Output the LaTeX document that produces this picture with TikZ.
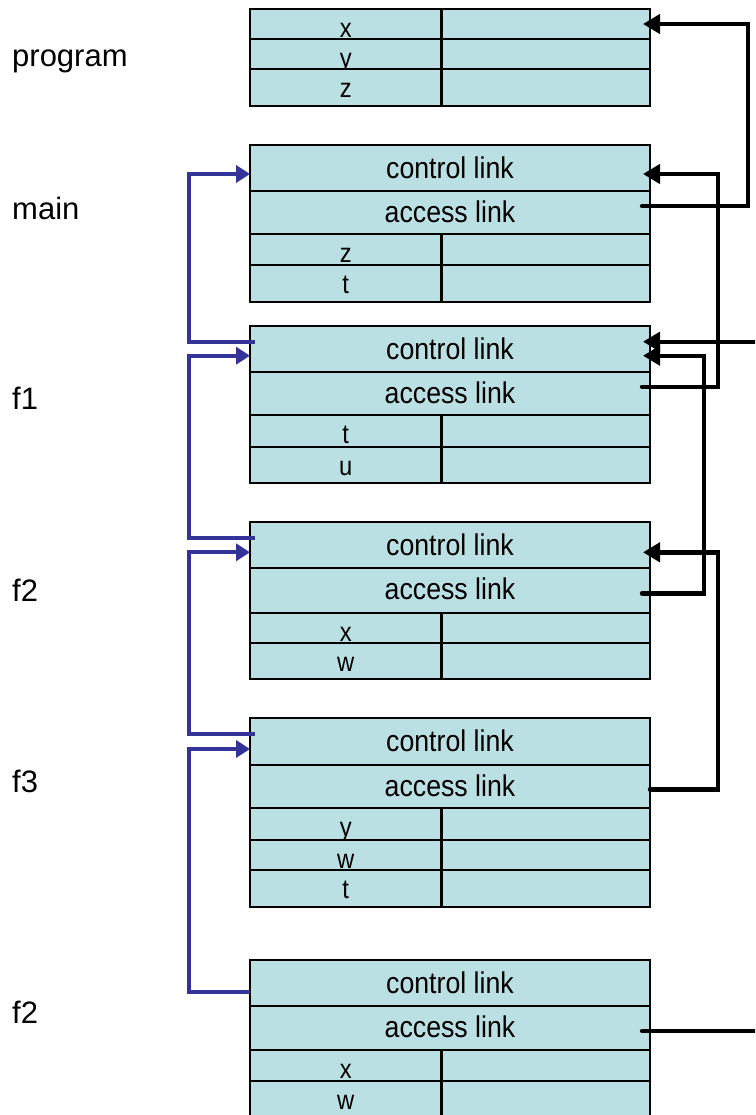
\documentclass[tikz,border=0pt]{standalone}
\usepackage{fontspec}
\setmainfont{Liberation Sans}
\newfontfamily\boxfont[FakeStretch=0.89]{Liberation Sans}
\newfontfamily\varfont[FakeStretch=0.88]{Liberation Sans}
\usetikzlibrary{arrows.meta}
\definecolor{cellfill}{RGB}{187,224,227}
\definecolor{linkblue}{RGB}{51,51,153}

\tikzset{
  cell/.style={draw=black, line width=2.2pt, fill=cellfill, inner sep=0pt, outer sep=0pt, anchor=north west},
  cellW/.style={cell, minimum width=400pt},
  cellL/.style={cell, minimum width=191.5pt},
  cellR/.style={cell, minimum width=208.5pt},
  boxtext/.style={anchor=base, inner sep=0pt, font=\boxfont\fontsize{30}{36}\selectfont},
  vartext/.style={anchor=base, inner sep=0pt, font=\varfont\fontsize{27}{32}\selectfont},
  lbl/.style={anchor=base west, inner sep=0pt, font=\fontsize{31}{37}\selectfont},
  acc/.style={draw=black, line width=4.4pt, line cap=round, -{Triangle[length=17pt,width=19pt]}},
  accline/.style={draw=black, line width=4.4pt, line cap=round},
  ctl/.style={draw=linkblue, line width=3.8pt, -{Triangle[length=14pt,width=17pt]}}
}

% name, top, bottom
\newcommand{\ctrlrow}[3]{%
  \node[cellW, minimum height={#3-#2}] (#1) at (250,#2) {};
  \node[boxtext] (#1-t) at (450,{#2+33.3}) {control link};
}
\newcommand{\accrow}[3]{%
  \node[cellW, minimum height={#3-#2}] (#1) at (250,#2) {};
  \node[boxtext] (#1-t) at (450,{#2+31.5}) {access link};
}
% name, top, bottom, text
\newcommand{\varrow}[4]{%
  \node[cellL, minimum height={#3-#2}] (#1-l) at (250,#2) {};
  \node[cellR, minimum height={#3-#2}] (#1-r) at (441.5,#2) {};
  \node[vartext] (#1-t) at (345.7,{#2+28.5}) {#4};
}

\begin{document}
\begin{tikzpicture}[x=1pt,y=-1pt]
\useasboundingbox (0,0) rectangle (755,1115);
\clip (0,0) rectangle (755,1115);

% labels
\node[lbl] (lprog) at (12,66.7) {program};
\node[lbl] (lmain) at (12,219) {main};
\node[lbl] (lf1) at (12,409.3) {f1};
\node[lbl] (lf2) at (12,601) {f2};
\node[lbl] (lf3) at (12,792.7) {f3};
\node[lbl] (lf2b) at (12,1023) {f2};

% program
\varrow{px}{9}{39.3}{x}
\varrow{py}{39.3}{69.3}{y}
\varrow{pz}{69.3}{106}{z}

% main
\ctrlrow{mc}{145}{191}
\accrow{ma}{191}{234}
\varrow{mz}{234}{265}{z}
\varrow{mt}{265}{302}{t}

% f1
\ctrlrow{f1c}{325.7}{372}
\accrow{f1a}{372}{415}
\varrow{f1t}{415}{446.7}{t}
\varrow{f1u}{446.7}{483.3}{u}

% f2
\ctrlrow{f2c}{522}{568.3}
\accrow{f2a}{568.3}{612.7}
\varrow{f2x}{612.7}{643.3}{x}
\varrow{f2w}{643.3}{679.3}{w}

% f3
\ctrlrow{f3c}{718.3}{764.7}
\accrow{f3a}{764.7}{808.3}
\varrow{f3y}{808.3}{840}{y}
\varrow{f3w}{840}{870}{w}
\varrow{f3t}{870}{906.7}{t}

% f2 (second)
\ctrlrow{gc}{960}{1006}
\accrow{ga}{1006}{1050}
\varrow{gx}{1050}{1081}{x}
\varrow{gw}{1081}{1117}{w}

% connector end points
\coordinate (prog-in) at (643,24);
\coordinate (main-out) at (642,206);
\coordinate (main-cin) at (643,174);
\coordinate (f1-out) at (642,386.7);
\coordinate (f1-cin1) at (643,341.7);
\coordinate (f1-cin2) at (643,355.7);
\coordinate (f2-out) at (642,593.3);
\coordinate (f2-cin) at (643,552.3);
\coordinate (f3-out) at (650,789.3);
\coordinate (g-out) at (642,1031);
\coordinate (edge-a) at (760,1031);
\coordinate (edge-b) at (760,341.7);

\coordinate (main-lin) at (250,174);
\coordinate (f1-lout) at (255,342.3);
\coordinate (f1-lin) at (250,355.7);
\coordinate (f2-lout) at (255,538.3);
\coordinate (f2-lin) at (250,552.3);
\coordinate (f3-lout) at (255,734.3);
\coordinate (f3-lin) at (250,749);
\coordinate (g-lout) at (250,991.7);

% access links (black)
\draw[acc] (main-out) -- ++(106,0) |- (prog-in);
\draw[acc] (f1-out) -- ++(76,0) |- (main-cin);
\draw[acc] (f2-out) -- ++(62,0) |- (f1-cin2);
\draw[acc] (f3-out) -- ++(68,0) |- (f2-cin);
\draw[acc] (edge-b) -- (f1-cin1);
\draw[accline] (g-out) -- (edge-a);

% control links (blue)
\draw[ctl] (f1-lout) -- ++(-66,0) |- (main-lin);
\draw[ctl] (f2-lout) -- ++(-66,0) |- (f1-lin);
\draw[ctl] (f3-lout) -- ++(-66,0) |- (f2-lin);
\draw[ctl] (g-lout) -- ++(-61,0) |- (f3-lin);
\end{tikzpicture}
\end{document}
